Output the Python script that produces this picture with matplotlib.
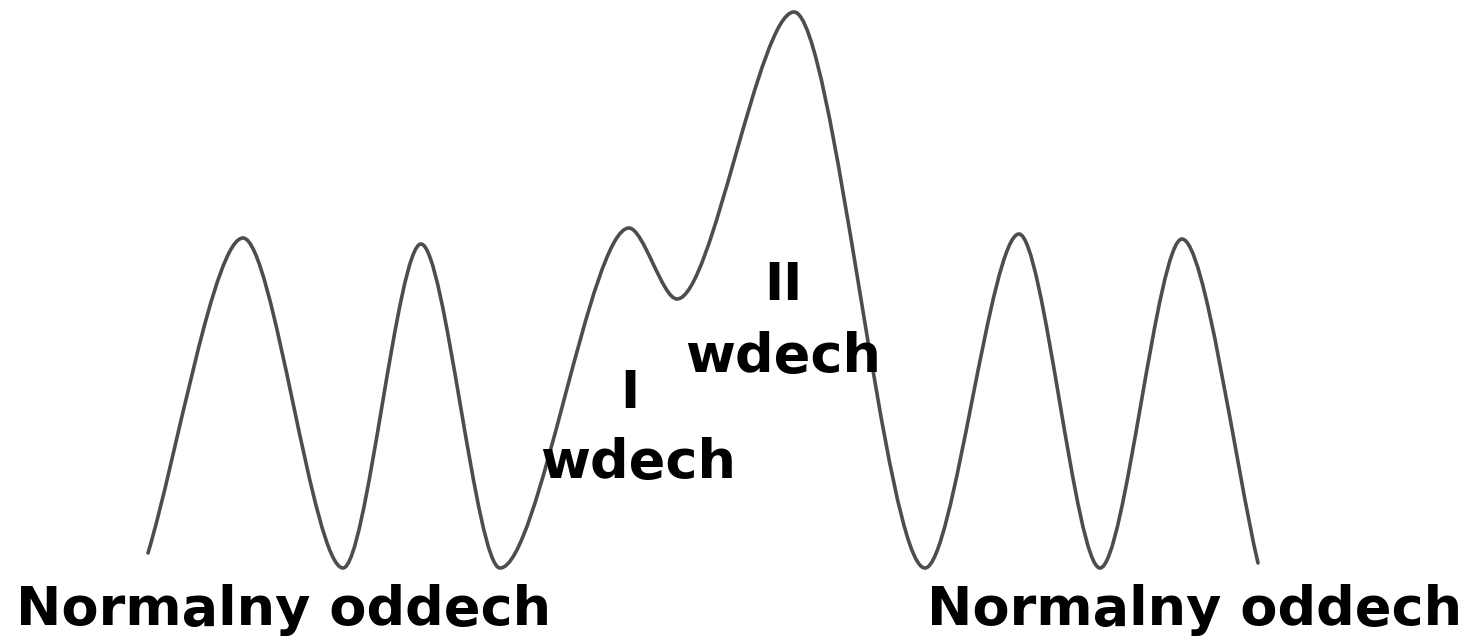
import matplotlib.pyplot as plt
from matplotlib.path import Path
from matplotlib.patches import PathPatch

# breathing curve: time (px-like units) and volume at each turning point
t = [148, 243, 343, 421, 500, 629, 677, 794, 925, 1019, 1100, 1182, 1258]
v = [84, 399, 69, 393, 69, 409, 338, 625, 69, 403, 69, 398, 74]

labels = ["Normalny oddech", "Normalny oddech"]
phase_labels = ["I\nwdech", "II\nwdech"]

W, H = 1473, 637
fig = plt.figure(figsize=(W / 100, H / 100), dpi=100)
ax = fig.add_axes([0, 0, 1, 1])
ax.set_xlim(0, W)
ax.set_ylim(0, H)
ax.axis("off")

# smooth curve through the turning points (flat tangent at extrema)
k = 0.3
n = len(t)
slopes = []
for i in range(n):
    if i == 0:
        slopes.append((v[1] - v[0]) / (t[1] - t[0]))
    elif i == n - 1:
        slopes.append((v[-1] - v[-2]) / (t[-1] - t[-2]))
    else:
        slopes.append(0.0)

verts = [(t[0], v[0])]
codes = [Path.MOVETO]
for i in range(n - 1):
    dx = t[i + 1] - t[i]
    c1 = (t[i] + k * dx, v[i] + slopes[i] * k * dx)
    c2 = (t[i + 1] - k * dx, v[i + 1] - slopes[i + 1] * k * dx)
    verts += [c1, c2, (t[i + 1], v[i + 1])]
    codes += [Path.CURVE4] * 3

ax.add_patch(PathPatch(Path(verts, codes), facecolor="none",
                       edgecolor="#4d4d4d", lw=2.6, capstyle="round"))

fs = 39
ax.text(16, 12, labels[0], fontsize=fs, fontweight="bold", ha="left", va="baseline")
ax.text(1462, 12, labels[1], fontsize=fs, fontweight="bold", ha="right", va="baseline")

ax.text(630, 229, phase_labels[0].split("\n")[0], fontsize=fs * 0.95, fontweight="bold",
        ha="center", va="baseline")
ax.text(638, 159, phase_labels[0].split("\n")[1], fontsize=fs, fontweight="bold",
        ha="center", va="baseline")
ax.text(783, 337, phase_labels[1].split("\n")[0], fontsize=fs * 0.95, fontweight="bold",
        ha="center", va="baseline")
ax.text(783, 265, phase_labels[1].split("\n")[1], fontsize=fs, fontweight="bold",
        ha="center", va="baseline")

fig.savefig("out.png", dpi=100, facecolor="white")
